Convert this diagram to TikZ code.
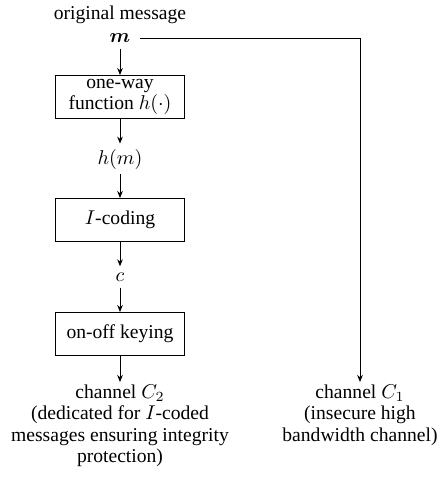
\documentclass[tikz,border=0pt]{standalone}
\usepackage{bm}
\usepackage[no-math]{fontspec}
\setmainfont{Liberation Serif}
\newfontfamily\tnr{Liberation Serif}
\usetikzlibrary{arrows.meta}
\begin{document}
\begin{tikzpicture}[x=0.5pt,y=-0.5pt,
  every node/.style={font=\tnr\fontsize{9.8}{10.8}\selectfont},
  blk/.style={draw, line width=0.5pt, minimum width=64.5pt, minimum height=21.5pt, align=center, inner sep=1pt},
  lbl/.style={inner sep=3pt},
  arr/.style={line width=0.5pt, -{Stealth[length=3.5pt,width=2.8pt]}},
  lin/.style={line width=0.5pt}]
\useasboundingbox (0,0) rectangle (440,477);
\node (orig) at (120,15) {original message};
\node[lbl] (m) at (120,38) {$\bm{m}$};
\node[blk] (b1) at (120,97) {one-way\\function $h(\cdot)$};
\node[lbl, inner sep=2.5pt] (hm) at (120,159) {$h(m)$};
\node[blk] (b2) at (120,220) {$I$-coding};
\node[lbl] (c) at (120,277) {$c$};
\node[blk] (b3) at (120,334) {on-off keying};
\node[anchor=north, align=center, inner sep=1pt] (c2) at (120,382) {channel $C_2$\\(dedicated for $I$-coded\\messages ensuring integrity\\protection)};
\node[anchor=north, align=center, inner sep=1pt] (c1) at (360,382) {channel $C_1$\\(insecure high\\bandwidth channel)};
\draw[arr] (m) -- (b1);
\draw[arr] (b1) -- (hm);
\draw[arr] (hm) -- (b2);
\draw[arr] (b2) -- (c);
\draw[arr] (c) -- (b3);
\draw[arr] (b3) -- (c2);
\draw[arr] ([xshift=1.5pt]m.east) -| (c1.north);
\end{tikzpicture}
\end{document}
